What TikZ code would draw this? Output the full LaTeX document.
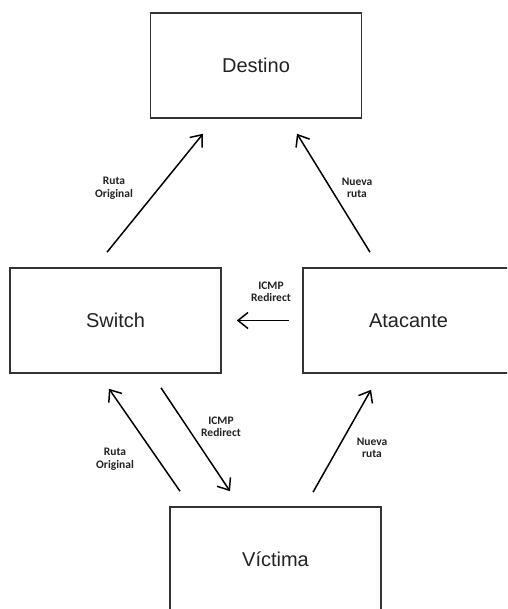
\documentclass[tikz,border=0pt]{standalone}
\usepackage{fontspec}
\setmainfont{Liberation Sans}
\newfontfamily\etiq{Carlito}
\usepackage{tikz}
\usetikzlibrary{positioning, calc, arrows.meta}
\definecolor{borde}{RGB}{51,51,51}
\definecolor{texto}{RGB}{34,34,34}

\begin{document}
\begin{tikzpicture}[x=1pt, y=-1pt,
		caja/.style={draw=borde, line width=1.6pt, minimum width=211pt, minimum height=105pt, inner sep=0pt, font=\fontsize{20}{24}\selectfont, text=texto},
		flecha/.style={-{Straight Barb[length=10pt, width=16pt, line width=1.5pt]}, line width=1.5pt, black},
		nota/.style={align=center, font=\etiq\bfseries\fontsize{11.5}{12.5}\selectfont, text=texto, inner sep=0pt}]
		\useasboundingbox (0,0) rectangle (507,609);
		\clip (0,0) rectangle (507,609);
		% cajas
		\node[caja] (destino) at (256,65.5) {Destino};
		\node[caja] (switch) at (115.5,320.5) {Switch};
		\node[caja] (atacante) at (408.5,320.5) {Atacante};
		\node[caja] (victima) at (275.5,559.5) {Víctima};
		% flechas
		\draw[flecha] ([shift={(-8.5,-15)}]switch.north) -- ([shift={(-53,15)}]destino.south);
		\draw[flecha] ([shift={(-38.5,-15)}]atacante.north) -- ([shift={(41,15)}]destino.south);
		\draw[flecha] ([shift={(-13,0)}]atacante.west) -- ([shift={(15,0)}]switch.east);
		\draw[flecha] ([shift={(-95.5,-15)}]victima.north) -- ([shift={(-6.5,15)}]switch.south);
		\draw[flecha] ([shift={(45.5,14)}]switch.south) -- ([shift={(-45.5,-15)}]victima.north);
		\draw[flecha] ([shift={(37.5,-14)}]victima.north) -- ([shift={(-37.5,16)}]atacante.south);
		% etiquetas
		\node[nota] (rutaA) at (114,188) {Ruta\\Original};
		\node[nota] (nuevaA) at (357,188) {Nueva\\ruta};
		\node[nota] (icmpA) at (271,292) {ICMP\\Redirect};
		\node[nota] (icmpB) at (221,427) {ICMP\\Redirect};
		\node[nota] (rutaB) at (115,459) {Ruta\\Original};
		\node[nota] (nuevaB) at (372,448) {Nueva\\ruta};
	\end{tikzpicture}
\end{document}
